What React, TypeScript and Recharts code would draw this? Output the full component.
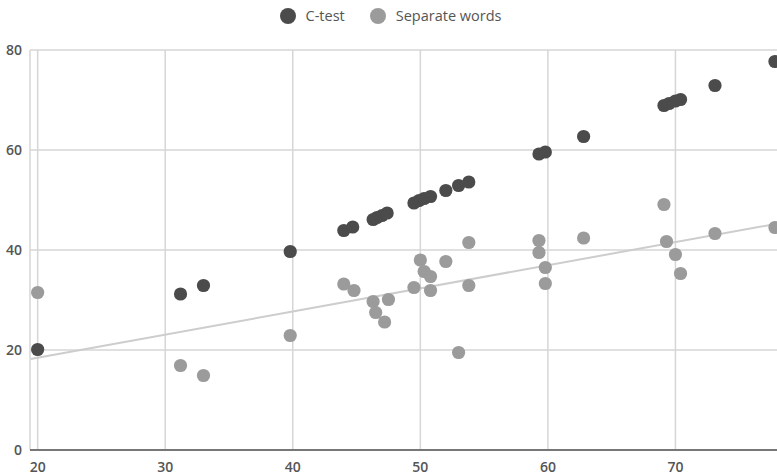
import React from "react";
import { ScatterChart, Scatter, XAxis, YAxis, CartesianGrid, Legend } from "recharts";

const xTicks = [20, 30, 40, 50, 60, 70];
const yTicks = [0, 20, 40, 60, 80];

const cTestX = [20.0, 31.2, 33.0, 39.8, 44.0, 44.7, 46.3, 46.6, 47.0, 47.4, 49.5, 49.9, 50.3, 50.8, 52.0, 53.0, 53.8, 59.3, 59.8, 62.8, 69.1, 69.5, 70.0, 70.4, 73.1, 77.8];
const cTestY = [20.1, 31.2, 32.9, 39.7, 43.9, 44.6, 46.1, 46.5, 46.9, 47.4, 49.4, 49.9, 50.3, 50.7, 51.9, 52.9, 53.6, 59.2, 59.6, 62.7, 68.9, 69.3, 69.8, 70.1, 72.9, 77.7];

const sepX = [20.0, 31.2, 33.0, 39.8, 44.0, 44.8, 46.3, 46.5, 47.2, 47.5, 49.5, 50.0, 50.3, 50.8, 50.8, 52.0, 53.0, 53.8, 53.8, 59.3, 59.3, 59.8, 59.8, 62.8, 69.1, 69.3, 70.0, 70.4, 73.1, 77.8];
const sepY = [31.5, 16.9, 14.9, 22.9, 33.2, 31.9, 29.7, 27.5, 25.6, 30.1, 32.5, 38.0, 35.7, 34.7, 31.9, 37.7, 19.5, 41.5, 32.9, 41.9, 39.5, 36.5, 33.3, 42.4, 49.1, 41.7, 39.1, 35.3, 43.3, 44.5];

const trendX = [19.45, 80];
const trendY = [18.2, 46.2];

const seriesNames = ["C-test", "Separate words"];
const seriesColors = ["#4b4b4b", "#9b9b9b"];

const cTestData = cTestX.map((x, i) => ({ x, y: cTestY[i] }));
const sepData = sepX.map((x, i) => ({ x, y: sepY[i] }));
const trendData = trendX.map((x, i) => ({ x, y: trendY[i] }));

const FONT = "'Open Sans', 'DejaVu Sans', sans-serif";

const makeDot = (color: string) => (props: any) => {
  const { cx, cy } = props;
  if (cx == null || cy == null) return <g />;
  return <circle cx={cx} cy={cy} r={6.6} fill={color} />;
};

const noDot = () => <g />;

const LegendContent = () => (
  <div
    style={{
      display: "flex",
      justifyContent: "center",
      alignItems: "center",
      fontFamily: FONT,
      fontSize: 14.5,
      color: "#555",
      lineHeight: "18px",
    }}
  >
    {seriesNames.map((name, i) => (
      <div key={name} style={{ display: "flex", alignItems: "center", marginRight: i === 0 ? 25 : 0 }}>
        <span
          style={{
            display: "inline-block",
            width: 16,
            height: 16,
            borderRadius: "50%",
            background: seriesColors[i],
            marginRight: 10,
          }}
        />
        <span>{name}</span>
      </div>
    ))}
  </div>
);

const tickStyle = { fill: "#555", fontSize: 14, fontFamily: FONT, fontWeight: 600 };

export default function App() {
  return (
    <div style={{ position: "absolute", left: 0, top: 0, width: 777, height: 475, overflow: "hidden", background: "#fff" }}>
      <ScatterChart width={803} height={475} margin={{ top: 50, right: 0, bottom: 0, left: 0 }}>
        <CartesianGrid stroke="#d6d6d6" strokeWidth={1.5} />
        <XAxis
          type="number"
          dataKey="x"
          domain={[19.4, 80]}
          ticks={xTicks}
          allowDataOverflow
          height={25}
          tickLine={false}
          tickMargin={6}
          axisLine={{ stroke: "#777", strokeWidth: 2 }}
          tick={tickStyle}
          interval={0}
        />
        <YAxis
          type="number"
          dataKey="y"
          domain={[0, 80]}
          ticks={yTicks}
          allowDataOverflow
          width={30}
          tickLine={false}
          axisLine={false}
          tick={tickStyle}
          interval={0}
        />
        <Legend
          verticalAlign="middle"
          layout="horizontal"
          content={<LegendContent />}
          wrapperStyle={{ top: 7, left: 0, width: 781, height: 18 }}
        />
        <Scatter
          name="trend"
          data={trendData}
          line={{ stroke: "#cdcdcd", strokeWidth: 2 }}
          shape={noDot}
          legendType="none"
          isAnimationActive={false}
        />
        <Scatter name={seriesNames[1]} data={sepData} fill={seriesColors[1]} shape={makeDot(seriesColors[1])} isAnimationActive={false} />
        <Scatter name={seriesNames[0]} data={cTestData} fill={seriesColors[0]} shape={makeDot(seriesColors[0])} isAnimationActive={false} />
      </ScatterChart>
    </div>
  );
}
